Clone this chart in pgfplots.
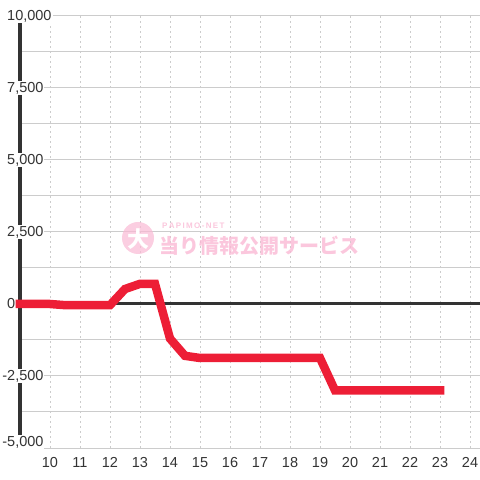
\documentclass[border=0pt]{standalone}
\usepackage{pgfplots}
\pgfplotsset{compat=1.18}
\usepackage{fontspec}
\setmainfont{Liberation Sans}
\newfontfamily\cjk{Noto Sans CJK JP}
\definecolor{linered}{RGB}{237,30,54}
\definecolor{axisdark}{RGB}{51,51,51}
\definecolor{gridgray}{RGB}{204,204,204}
\definecolor{wmpink}{RGB}{250,185,212}
\begin{document}
\begin{tikzpicture}
\useasboundingbox (0,0) rectangle (480bp,480bp);
\begin{axis}[
  at={(20bp,32bp)}, anchor=south west, scale only axis,
  width=460bp, height=432bp,
  xmin=9, xmax=24.3333, ymin=-5000, ymax=10000,
  clip=false, scaled y ticks=false,
  axis y line*=left, axis x line*=bottom,
  y axis line style={axisdark, line width=3bp, -},
  x axis line style={draw=none, -},
  tick style={draw=none},
  xtick={10,11,12,13,14,15,16,17,18,19,20,21,22,23,24},
  xticklabels={10,11,12,13,14,15,16,17,18,19,20,21,22,23,24},
  ytick={-2500,0,2500,5000,7500,10000},
  yticklabels={{\llap{-}2{,}500},{0},{2{,}500},{5{,}000},{7{,}500},{10{,}000}},
  minor ytick={-3750,-1250,1250,3750,6250,8750},
  extra y ticks={-5000},
  extra y tick labels={{\llap{-}5{,}000}},
  extra y tick style={yticklabel style={yshift=6bp}},
  xmajorgrids, ymajorgrids, yminorgrids,
  x grid style={gridgray, line width=1bp, dash pattern=on 2bp off 3bp},
  y grid style={gridgray, line width=1bp},
  yticklabel style={anchor=west, xshift=-14bp, fill=white, inner sep=1bp,
    text=axisdark, font=\fontsize{14.5bp}{16bp}\selectfont},
  xticklabel style={anchor=north, yshift=-9bp, inner sep=0pt,
    text=axisdark, font=\fontsize{14.5bp}{16bp}\selectfont},
]
\draw[axisdark, line width=3bp] (axis cs:9,0) -- (axis cs:24.3333,0);
\addplot[linered, line width=8.5bp, line cap=rect, no marks] coordinates {
  (9,0) (10,0) (10.5,-40) (11,-40) (11.5,-40) (12,-40)
  (12.5,520) (13,700) (13.5,700) (14,-1200) (14.5,-1800) (15,-1875)
  (16,-1875) (17,-1875) (18,-1875) (19,-1875) (19.5,-3000)
  (20,-3000) (21,-3000) (22,-3000) (23,-3000)
};
\end{axis}
\fill[wmpink, opacity=0.7] (138bp,242bp) circle (16bp);
\node[white, inner sep=0pt] at (138bp,241bp) {\cjk\bfseries\fontsize{22bp}{22bp}\selectfont 大};
\node[wmpink, opacity=0.8, anchor=west, inner sep=0pt] at (159bp,234bp)
  {\cjk\bfseries\fontsize{20bp}{20bp}\selectfont 当り情報公開サービス};
\node[wmpink, opacity=0.8, anchor=west, inner sep=0pt] at (162bp,254bp)
  {\fontsize{8bp}{8bp}\selectfont\bfseries P\,A\,P\,I\,M\,O\,-\,N\,E\,T};
\end{tikzpicture}
\end{document}
